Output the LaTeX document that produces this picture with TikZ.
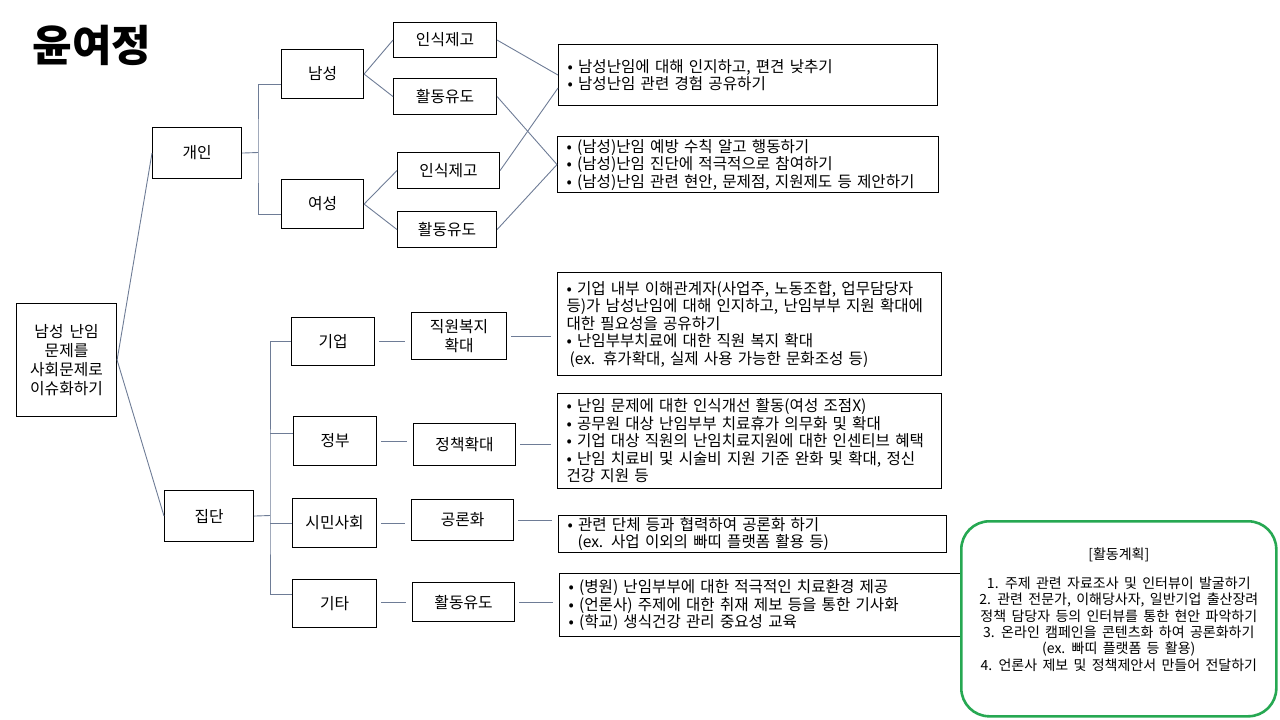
\documentclass[tikz,border=0pt]{standalone}
\usepackage{fontspec}
\setmainfont{Noto Sans CJK KR}[WordSpace=1.7]
\usepackage{xcolor}
\usepackage{tikz}
\usetikzlibrary{positioning, calc}

\definecolor{linkgray}{RGB}{110,124,150}
\definecolor{plangreen}{RGB}{38,168,82}

\begin{document}
\begin{tikzpicture}[x=1pt, y=-1pt,
  box/.style={draw, line width=1.1pt, anchor=north west, inner sep=0pt,
    align=center, font=\fontsize{15.8}{19}\selectfont},
  note/.style={draw, line width=1.1pt, anchor=north west, inner sep=0pt,
    inner xsep=9pt, align=left, font=\fontsize{15.6}{17.5}\selectfont},
  link/.style={draw=linkgray, line width=0.9pt},
  gap/.style={link, shorten <=4pt, shorten >=6pt}]
  \useasboundingbox (0,0) rectangle (1280,720);

  % title
  \node[anchor=west, font=\fontsize{43}{43}\selectfont\bfseries] (title) at (29,45) {윤여정};

  % root
  \node[box, minimum width=100pt, minimum height=113pt] (root) at (16,303)
    {남성 난임\\문제를\\사회문제로\\이슈화하기};

  % individual branch
  \node[box, minimum width=89pt, minimum height=51pt] (gaein) at (152,127) {개인};
  \node[box, minimum width=82pt, minimum height=49pt] (nam) at (281,49) {남성};
  \node[box, minimum width=82pt, minimum height=49pt] (yeo) at (281,179) {여성};
  \node[box, minimum width=103pt, minimum height=35pt] (ins1) at (393,22) {인식제고};
  \node[box, minimum width=103pt, minimum height=36pt] (hwal1) at (393,78) {활동유도};
  \node[box, minimum width=102pt, minimum height=36pt] (ins2) at (397,152) {인식제고};
  \node[box, minimum width=99pt, minimum height=36pt] (hwal2) at (397,211) {활동유도};

  \node[note, minimum width=379pt, minimum height=61pt, text width=361pt] (noteA) at (558,44)
    {• 남성난임에 대해 인지하고, 편견 낮추기\\
     • 남성난임 관련 경험 공유하기};
  \node[note, minimum width=381pt, minimum height=56pt, text width=363pt] (noteB) at (557,136)
    {• (남성)난임 예방 수칙 알고 행동하기\\
     • (남성)난임 진단에 적극적으로 참여하기\\
     • (남성)난임 관련 현안, 문제점, 지원제도 등 제안하기};

  % group branch
  \node[box, minimum width=89pt, minimum height=51pt] (jipdan) at (164,490) {집단};
  \node[box, minimum width=83pt, minimum height=48pt] (gieop) at (291,317) {기업};
  \node[box, minimum width=83pt, minimum height=49pt] (jeongbu) at (293,416) {정부};
  \node[box, minimum width=84pt, minimum height=49pt] (simin) at (292,498) {시민사회};
  \node[box, minimum width=84pt, minimum height=48pt] (gita) at (292,579) {기타};
  \node[box, minimum width=95pt, minimum height=47pt] (jikwon) at (411,312) {직원복지\\확대};
  \node[box, minimum width=102pt, minimum height=42pt] (jeongchaek) at (413,423) {정책확대};
  \node[box, minimum width=102pt, minimum height=41pt] (gongron) at (411,499) {공론화};
  \node[box, minimum width=102pt, minimum height=39pt] (hwal3) at (412,582) {활동유도};

  \node[note, minimum width=384pt, minimum height=103pt, text width=366pt] (noteC) at (557,272)
    {• 기업 내부 이해관계자(사업주, 노동조합, 업무담당자\\
     등)가 남성난임에 대해 인지하고, 난임부부 지원 확대에\\
     대한 필요성을 공유하기\\
     • 난임부부치료에 대한 직원 복지 확대\\
     \hspace*{3pt}(ex. 휴가확대, 실제 사용 가능한 문화조성 등)};
  \node[note, minimum width=384pt, minimum height=95pt, text width=366pt] (noteD) at (557,393)
    {• 난임 문제에 대한 인식개선 활동(여성 조점X)\\
     • 공무원 대상 난임부부 치료휴가 의무화 및 확대\\
     • 기업 대상 직원의 난임치료지원에 대한 인센티브 혜택\\
     • 난임 치료비 및 시술비 지원 기준 완화 및 확대, 정신\\
     건강 지원 등};
  \node[note, minimum width=388pt, minimum height=37pt, text width=370pt] (noteE) at (558,515)
    {• 관련 단체 등과 협력하여 공론화 하기\\
     \hspace*{10pt}(ex. 사업 이외의 빠띠 플랫폼 활용 등)};
  \node[note, minimum width=401pt, minimum height=63pt, text width=383pt] (noteF) at (559,573)
    {• (병원) 난임부부에 대한 적극적인 치료환경 제공\\
     • (언론사) 주제에 대한 취재 제보 등을 통한 기사화\\
     • (학교) 생식건강 관리 중요성 교육};

  % activity plan
  \node[draw=plangreen, fill=white, line width=2.6pt, rounded corners=28pt, anchor=north west,
    minimum width=315pt, minimum height=195pt] (plan) at (960,520) {};
  \node[align=center, font=\fontsize{14}{16.4}\selectfont] (plantext) at ([yshift=9pt]plan.center)
    {[활동계획]\\[12pt]
     1. 주제 관련 자료조사 및 인터뷰이 발굴하기\\
     2. 관련 전문가, 이해당사자, 일반기업 출산장려\\
     정책 담당자 등의 인터뷰를 통한 현안 파악하기\\
     3. 온라인 캠페인을 콘텐츠화 하여 공론화하기\\
     (ex. 빠띠 플랫폼 등 활용)\\
     4. 언론사 제보 및 정책제안서 만들어 전달하기};

  % connectors: root
  \draw[link] (root.east) -- (gaein.west);
  \draw[link] (root.east) -- (jipdan.west);

  % connectors: individual
  \coordinate (gfork) at (258,152.5);
  \draw[link] (gaein.east) -- (gfork);
  \draw[link] ([yshift=-10pt]nam.west) -| (gfork) |- ([yshift=-10pt]yeo.west);
  \draw[link] (nam.east) -- (ins1.west);
  \draw[link] (nam.east) -- (hwal1.west);
  \draw[link] (yeo.east) -- (ins2.west);
  \draw[link] (yeo.east) -- (hwal2.west);
  \draw[link] (ins1.east) -- (noteA.west);
  \draw[link] (hwal1.east) -- (noteB.west);
  \draw[link] (ins2.east) -- ([yshift=-13pt]noteA.west);
  \draw[link] (hwal2.east) -- (noteB.west);

  % connectors: group
  \coordinate (jfork) at (270,515.5);
  \draw[link] (jipdan.east) -- (jfork);
  \draw[link] (gieop.west) -| (jfork) |- ([yshift=9pt]gita.west);
  \draw[link] ([yshift=8pt]jeongbu.west) -- ([yshift=8pt]jeongbu.west -| jfork);
  \draw[link] (simin.west) -- (simin.west -| jfork);
  \draw[gap] (gieop.east) -- (gieop.east -| jikwon.west);
  \draw[gap] (jeongbu.east) -- (jeongbu.east -| jeongchaek.west);
  \draw[gap] (simin.east) -- (simin.east -| gongron.west);
  \draw[gap] (hwal3.west -| gita.east) -- (hwal3.west);
  \draw[gap] (jikwon.east) -- (jikwon.east -| noteC.west);
  \draw[gap] (jeongchaek.east) -- (jeongchaek.east -| noteD.west);
  \draw[gap] (gongron.east) -- (gongron.east -| noteE.west);
  \draw[gap] (hwal3.east) -- (hwal3.east -| noteF.west);
\end{tikzpicture}
\end{document}
